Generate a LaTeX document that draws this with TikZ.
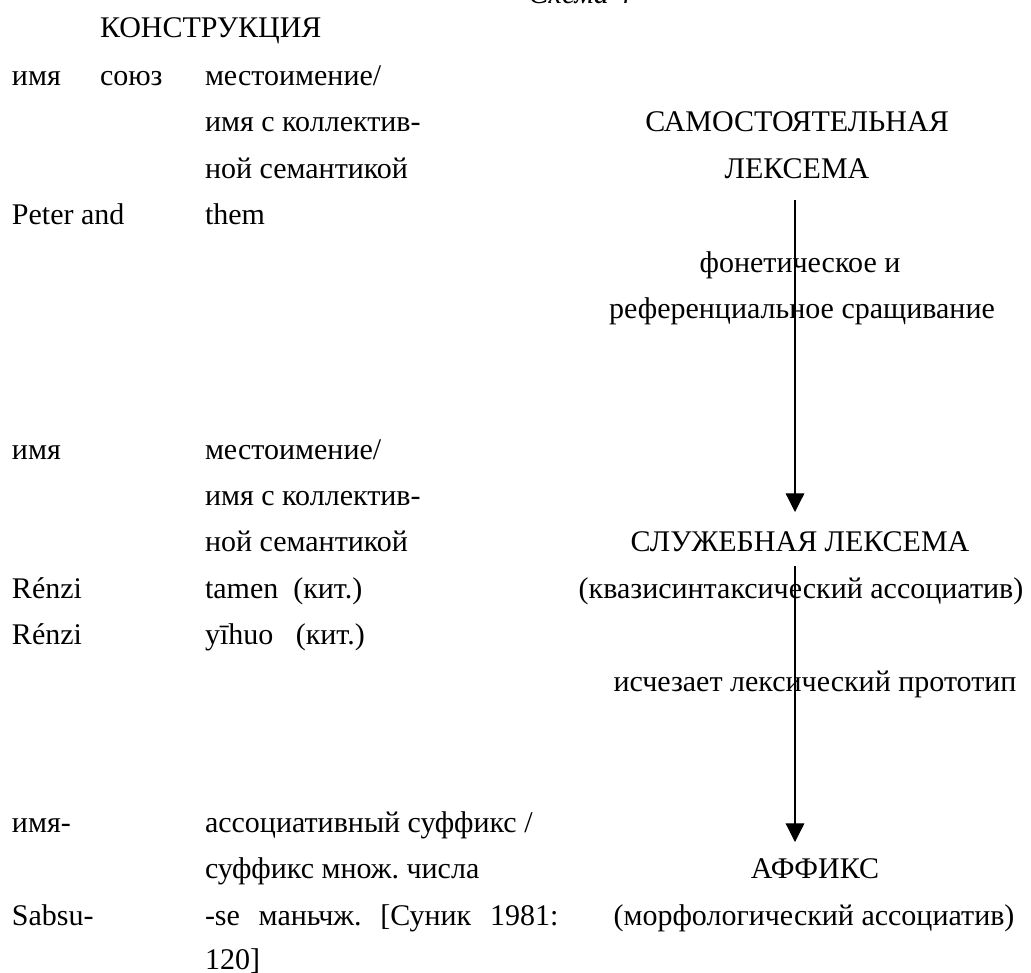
\documentclass[tikz,border=0pt]{standalone}
\usepackage{fontspec}
\setmainfont{Liberation Serif}
\usetikzlibrary{arrows.meta}
\frenchspacing
\begin{document}
\begin{tikzpicture}[x=0.75pt,y=-0.75pt,
  txt/.style={inner sep=0pt,outer sep=0pt,anchor=base west,font=\fontsize{22.5pt}{27pt}\selectfont},
  ctr/.style={txt,anchor=base},
  flow/.style={draw,line width=0.9pt,-{Triangle[length=14pt,width=14pt]}}]
\useasboundingbox (0,0) rectangle (1031,972);
\node[ctr,font=\fontsize{22.5pt}{27pt}\selectfont\itshape] (title) at (580,3) {Схема 4};
\node[txt] (konstr) at (100,37) {КОНСТРУКЦИЯ};
% block 1
\node[txt] (a1) at (12,85) {имя};
\node[txt] (a2) at (100,85) {союз};
\node[txt] (a3) at (205,85) {местоимение/};
\node[txt] (a4) at (205,131) {имя с коллектив-};
\node[txt] (a5) at (205,178) {ной семантикой};
\node[txt] (a6) at (12,224) {Peter and};
\node[txt] (a7) at (205,224) {them};
% block 2
\node[txt] (b1) at (12,459) {имя};
\node[txt] (b2) at (205,459) {местоимение/};
\node[txt] (b3) at (205,505) {имя с коллектив-};
\node[txt] (b4) at (205,551) {ной семантикой};
\node[txt] (b5) at (12,598) {Rénzi};
\node[txt] (b6) at (205,598) {tamen\ \ (кит.)};
\node[txt] (b7) at (12,644) {Rénzi};
\node[txt] (b8) at (205,644) {yīhuo\ \ \ (кит.)};
% block 3
\node[txt] (c1) at (12,832) {имя-};
\node[txt] (c2) at (205,832) {ассоциативный суффикс /};
\node[txt] (c3) at (205,878) {суффикс множ. числа};
\node[txt] (c4) at (12,925) {Sabsu-};
\node[txt] (c5) at (205,925) {\makebox[265pt][s]{-se маньчж. [Суник 1981:}};
\node[txt] (c6) at (205,969) {120]};
% right column
\node[ctr] (r1) at (797,131) {САМОСТОЯТЕЛЬНАЯ};
\node[ctr] (r2) at (797,178) {ЛЕКСЕМА};
\node[ctr] (r3) at (800,272) {фонетическое и};
\node[ctr] (r4) at (802,318) {референциальное сращивание};
\node[ctr] (r5) at (800,551) {СЛУЖЕБНАЯ ЛЕКСЕМА};
\node[ctr] (r6) at (801,598) {(квазисинтаксический ассоциатив)};
\node[ctr] (r7) at (815,691) {исчезает лексический прототип};
\node[ctr] (r8) at (815,878) {АФФИКС};
\node[ctr] (r9) at (814,925) {(морфологический ассоциатив)};
\coordinate (s1) at (795,200);
\coordinate (e1) at (795,512);
\coordinate (s2) at (795,566);
\coordinate (e2) at (795,842);
\draw[flow] (s1) -- (e1);
\draw[flow] (s2) -- (e2);
\end{tikzpicture}
\end{document}
